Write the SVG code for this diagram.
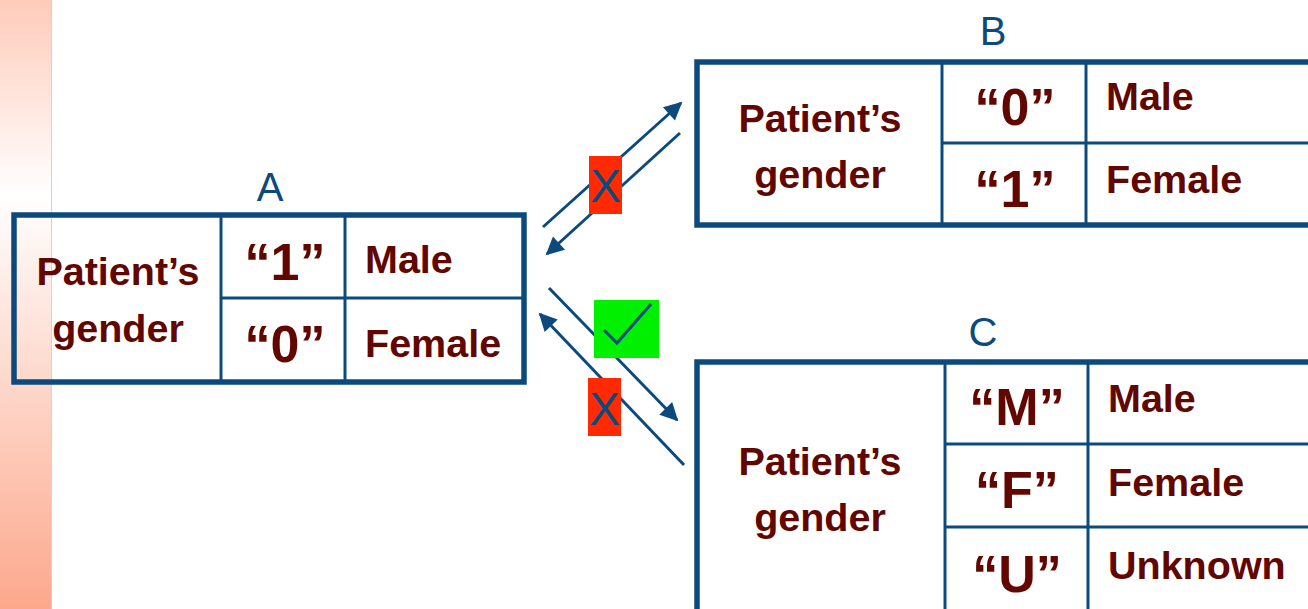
<svg xmlns="http://www.w3.org/2000/svg" width="1308" height="609" viewBox="0 0 1308 609">
  <defs>
    <linearGradient id="strip" x1="0" y1="0" x2="0" y2="1">
      <stop offset="0" stop-color="#FFCBBA"/>
      <stop offset="0.32" stop-color="#FFFFFF"/>
      <stop offset="1" stop-color="#FCA88C"/>
    </linearGradient>
    <marker id="head" viewBox="0 0 10 10" refX="9" refY="5" markerWidth="7" markerHeight="6" markerUnits="strokeWidth" orient="auto">
      <path d="M0,0 L10,5 L0,10 Z" fill="#0C4A7E"/>
    </marker>
  </defs>
  <style>
    .outer { fill: none; stroke: #0C4A7E; stroke-width: 5.5; }
    .grid { fill: none; stroke: #0C4A7E; stroke-width: 3; }
    .lbl { font-family: "Liberation Sans", Arial, sans-serif; font-weight: bold; font-size: 39.5px; fill: #620600; }
    .code { font-family: "Liberation Sans", Arial, sans-serif; font-weight: bold; font-size: 52px; fill: #620600; text-anchor: middle; }
    .mid { text-anchor: middle; }
    .title { font-family: "Liberation Sans", Arial, sans-serif; font-size: 40px; fill: #0C4A7E; text-anchor: middle; }
    .arrow { stroke: #0C4A7E; stroke-width: 3; fill: none; marker-end: url(#head); }
    .plain { stroke: #0C4A7E; stroke-width: 3; fill: none; }
    .mark { font-family: "Liberation Sans", Arial, sans-serif; font-size: 46px; fill: #0C4A7E; text-anchor: middle; }
  </style>

  <!-- background -->
  <rect x="0" y="0" width="1308" height="609" fill="#FFFFFF"/>
  <rect x="0" y="0" width="51" height="609" fill="url(#strip)"/>
  <line x1="51.5" y1="0" x2="51.5" y2="609" stroke="#CADBC8" stroke-width="1"/>

  <!-- table A -->
  <g id="tableA">
    <text class="title" x="270" y="201">A</text>
    <rect class="outer" x="14" y="215" width="510" height="167"/>
    <line class="grid" x1="221" y1="215" x2="221" y2="382"/>
    <line class="grid" x1="345" y1="215" x2="345" y2="382"/>
    <line class="grid" x1="221" y1="298" x2="524" y2="298"/>
    <text class="lbl mid" x="118" y="285">Patient’s</text>
    <text class="lbl mid" x="118" y="342">gender</text>
    <text class="code" x="285" y="280">“1”</text>
    <text class="code" x="285" y="362">“0”</text>
    <text class="lbl" x="365" y="273">Male</text>
    <text class="lbl" x="365" y="357">Female</text>
  </g>

  <!-- table B -->
  <g id="tableB">
    <text class="title" x="993" y="45">B</text>
    <rect class="outer" x="697" y="62" width="640" height="163"/>
    <line class="grid" x1="942" y1="62" x2="942" y2="225"/>
    <line class="grid" x1="1086" y1="62" x2="1086" y2="225"/>
    <line class="grid" x1="942" y1="143" x2="1308" y2="143"/>
    <text class="lbl mid" x="820" y="132">Patient’s</text>
    <text class="lbl mid" x="820" y="188">gender</text>
    <text class="code" x="1015" y="125">“0”</text>
    <text class="code" x="1015" y="207">“1”</text>
    <text class="lbl" x="1106" y="110">Male</text>
    <text class="lbl" x="1106" y="193">Female</text>
  </g>

  <!-- table C -->
  <g id="tableC">
    <text class="title" x="983" y="346">C</text>
    <rect class="outer" x="697" y="362" width="640" height="300"/>
    <line class="grid" x1="945" y1="362" x2="945" y2="609"/>
    <line class="grid" x1="1088" y1="362" x2="1088" y2="609"/>
    <line class="grid" x1="945" y1="444" x2="1308" y2="444"/>
    <line class="grid" x1="945" y1="527" x2="1308" y2="527"/>
    <text class="lbl mid" x="820" y="475">Patient’s</text>
    <text class="lbl mid" x="820" y="531">gender</text>
    <text class="code" x="1017" y="425">“M”</text>
    <text class="code" x="1017" y="508">“F”</text>
    <text class="code" x="1017" y="592">“U”</text>
    <text class="lbl" x="1108" y="412">Male</text>
    <text class="lbl" x="1108" y="496">Female</text>
    <text class="lbl" x="1108" y="579">Unknown</text>
  </g>

  <!-- connectors between tables -->
  <g id="connectors">
    <line class="arrow" x1="543" y1="227" x2="681" y2="103"/>
    <line class="arrow" x1="680" y1="133" x2="547" y2="254"/>
    <line class="arrow" x1="549" y1="288" x2="677" y2="420"/>
    <line class="arrow" x1="684" y1="465" x2="540" y2="314"/>

    <g id="rejectB">
      <rect x="589" y="156" width="33" height="58" fill="#FF2A00"/>
      <text class="mark" x="605.5" y="202">X</text>
    </g>
    <g id="acceptC">
      <rect x="594" y="300" width="65" height="58" fill="#00F000"/>
      <path class="plain" d="M604,330 L617,343 L651,304"/>
    </g>
    <g id="rejectA">
      <rect x="588" y="378" width="33" height="58" fill="#FF2A00"/>
      <text class="mark" x="604.5" y="425">X</text>
    </g>
  </g>
</svg>
